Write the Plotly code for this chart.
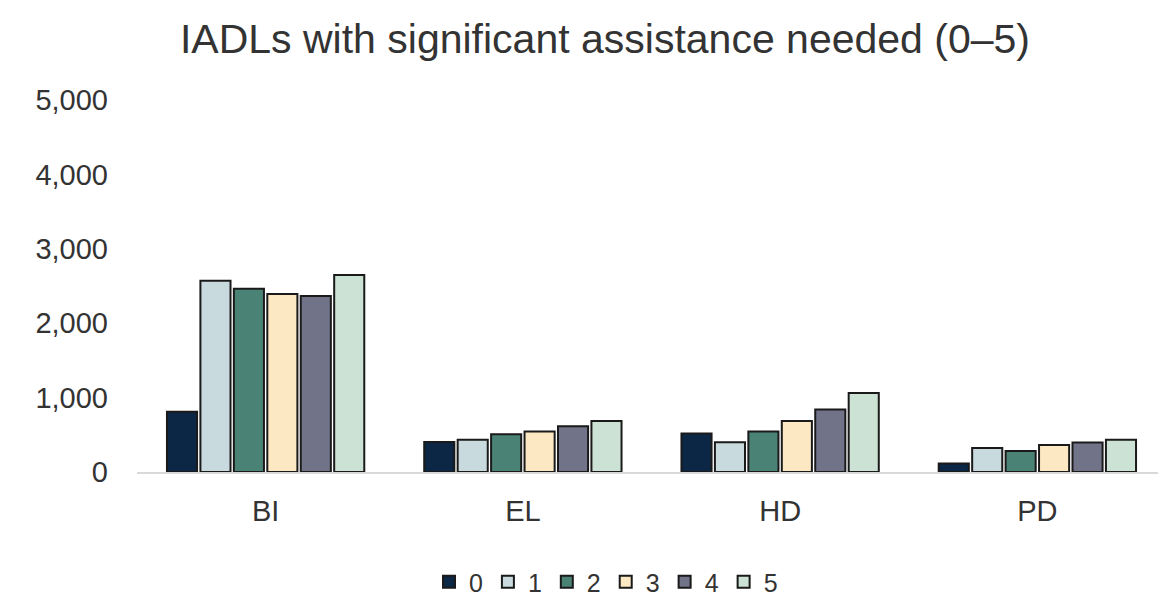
import plotly.graph_objects as go

categories = ["BI", "EL", "HD", "PD"]
series_names = ["0", "1", "2", "3", "4", "5"]
values = {
    "0": [810, 403, 516, 113],
    "1": [2571, 435, 400, 323],
    "2": [2464, 507, 543, 282],
    "3": [2392, 543, 686, 363],
    "4": [2365, 614, 839, 395],
    "5": [2648, 686, 1062, 435],
}
colors = ["#0b2745", "#c8dadd", "#4a8376", "#fce8c3", "#717389", "#cce2d4"]
y_ticks = [0, 1000, 2000, 3000, 4000, 5000]

# page body has an 8px margin, so the figure is drawn at (8, 8)
W, H = 1158, 590

fig = go.Figure()
for name, col in zip(series_names, colors):
    fig.add_trace(go.Bar(
        name=name, x=categories, y=values[name],
        marker=dict(color=col, line=dict(color="#1a1a1a", width=2)),
    ))

fig.update_layout(
    width=W, height=H,
    barmode="group", bargap=0.22, bargroupgap=0.1,
    plot_bgcolor="white", paper_bgcolor="white",
    font=dict(family="Liberation Sans, Arial, sans-serif", color="#333333"),
    margin=dict(l=129, r=0, t=92, b=126),
    title=dict(text="IADLs with significant assistance needed (0–5)",
               x=597 / W, xanchor="center", y=1 - 31 / H, yanchor="middle",
               font=dict(size=41, color="#333333")),
    xaxis=dict(showline=True, linecolor="#d9d9d9", linewidth=2,
               tickfont=dict(size=29), ticks="", showgrid=False,
               ticklabelstandoff=12),
    yaxis=dict(range=[0, 5000], tickvals=y_ticks, tickformat=",",
               showgrid=False, zeroline=False, showline=False, ticks="",
               tickfont=dict(size=29), ticklabelstandoff=28),
    legend=dict(orientation="h", xref="container", x=598 / W, xanchor="center",
                yref="container", y=1 - 574 / H, yanchor="middle",
                font=dict(size=25), itemwidth=30),
)

fig.write_html("out.html")
